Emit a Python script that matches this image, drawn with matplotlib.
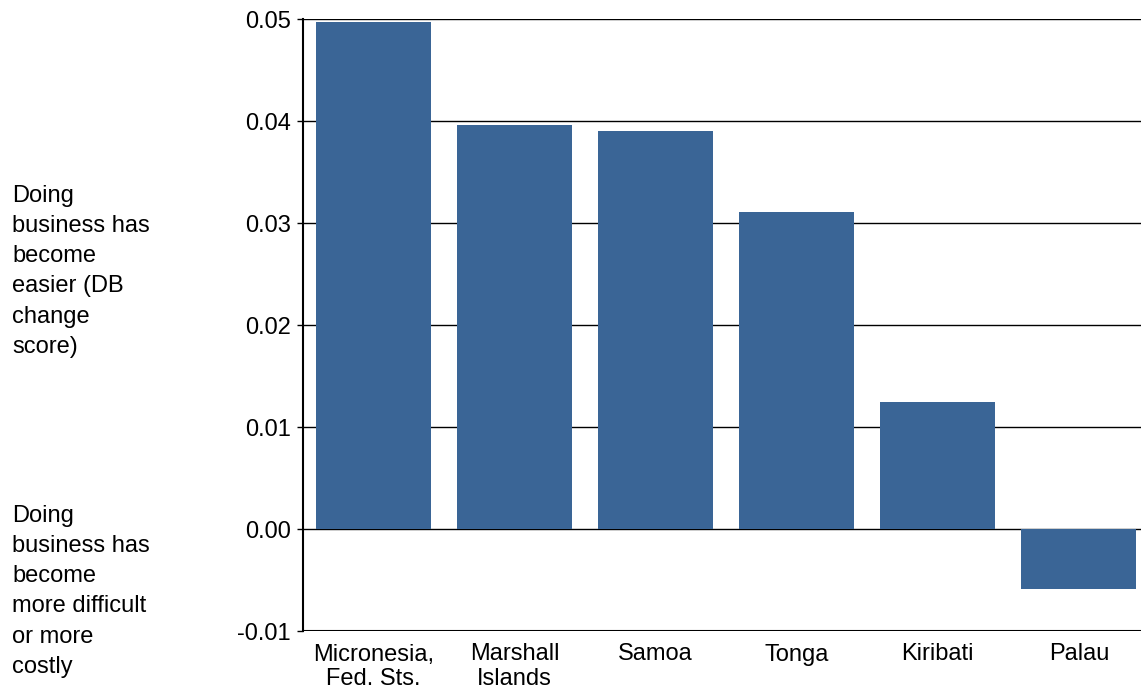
import numpy as np
import matplotlib
matplotlib.use('Agg')
import matplotlib.pyplot as plt

plt.rcParams['font.family'] = ['Liberation Sans', 'DejaVu Sans']

countries = ["Micronesia,\nFed. Sts.", "Marshall\nIslands", "Samoa", "Tonga", "Kiribati", "Palau"]
scores = [0.0497, 0.0396, 0.0390, 0.0311, 0.0125, -0.0059]
yticks = [-0.01, 0.00, 0.01, 0.02, 0.03, 0.04, 0.05]

fig = plt.figure(figsize=(11.41, 6.88), dpi=100)
ax = fig.add_axes([303/1141, 57/688, 838/1141, 612/688])

x = np.arange(len(countries))
ax.bar(x, scores, width=0.815, color='#3A6596', zorder=3)

ax.set_ylim(-0.01, 0.05)
ax.set_xlim(-0.5, 5.44)
ax.set_yticks(yticks)
ax.set_yticklabels(["%.2f" % v for v in yticks])
ax.set_xticks(x)
ax.set_xticklabels(countries, linespacing=1.15)
ax.grid(axis='y', color='black', linewidth=1.0, zorder=1)
for s in ['top', 'right', 'bottom']:
    ax.spines[s].set_visible(False)
ax.spines['left'].set_linewidth(1.5)
ax.axhline(-0.01, color='black', linewidth=1.5, zorder=2)
ax.tick_params(axis='y', length=4, width=1, labelsize=17, pad=5)
ax.tick_params(axis='x', length=0, labelsize=17, pad=9)

fig.text(12/1141, 1 - 185/688, "Doing\nbusiness has\nbecome\neasier (DB\nchange\nscore)",
         fontsize=17, va='top', ha='left', linespacing=1.48)
fig.text(12/1141, 1 - 505/688, "Doing\nbusiness has\nbecome\nmore difficult\nor more\ncostly",
         fontsize=17, va='top', ha='left', linespacing=1.48)

plt.savefig("out.png", dpi=100)
plt.close()
